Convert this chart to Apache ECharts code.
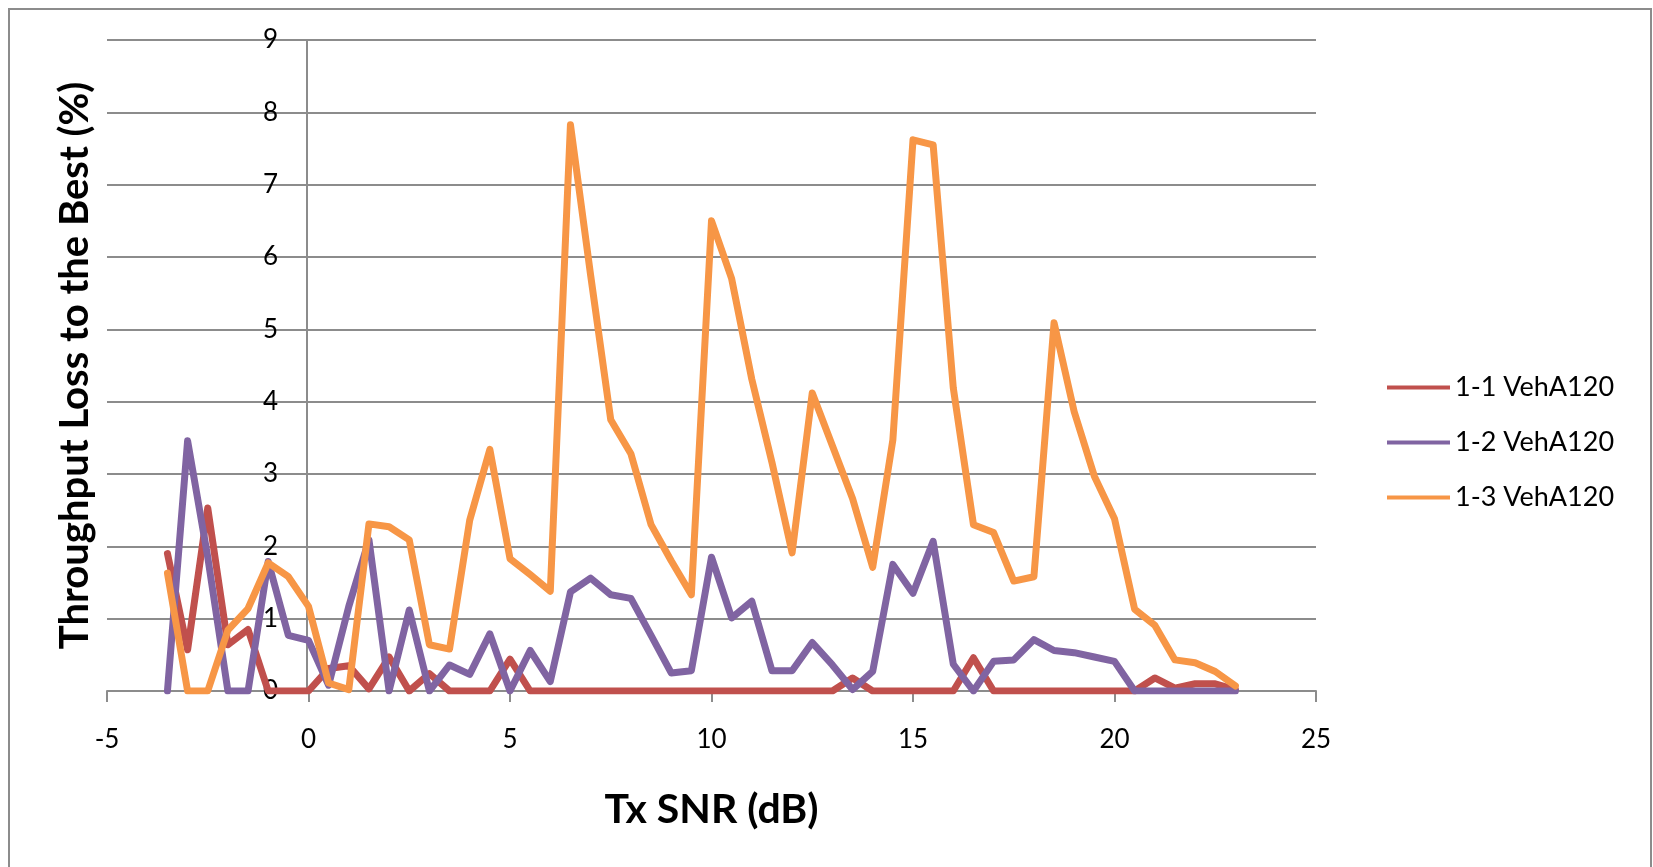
<!DOCTYPE html>
<html>
<head>
<meta charset="utf-8">
<title>Throughput Loss to the Best</title>
<script src="https://cdn.jsdelivr.net/npm/echarts@6/dist/echarts.min.js"></script>
<style>
  html, body { margin: 0; padding: 0; background: #fff; }
  #chart { width: 1653px; height: 867px; }
</style>
</head>
<body>
<div id="chart"></div>
<script>
// Tx SNR (dB) sample points
var snr = [-3.5, -3, -2.5, -2, -1.5, -1, -0.5, 0, 0.5, 1, 1.5, 2, 2.5, 3, 3.5, 4, 4.5, 5, 5.5, 6,
  6.5, 7, 7.5, 8, 8.5, 9, 9.5, 10, 10.5, 11, 11.5, 12, 12.5, 13, 13.5, 14, 14.5, 15, 15.5, 16,
  16.5, 17, 17.5, 18, 18.5, 19, 19.5, 20, 20.5, 21, 21.5, 22, 22.5, 23];

// throughput loss (%) per series
var loss11 = [1.90, 0.57, 2.53, 0.64, 0.85, 0, 0, 0, 0.31, 0.35, 0.03, 0.47, 0, 0.24, 0, 0, 0, 0.44, 0, 0,
  0, 0, 0, 0, 0, 0, 0, 0, 0, 0, 0, 0, 0, 0, 0.18, 0, 0, 0, 0, 0,
  0.46, 0, 0, 0, 0, 0, 0, 0, 0, 0.18, 0.04, 0.10, 0.10, 0.02];
var loss12 = [0, 3.46, 1.85, 0, 0, 1.79, 0.77, 0.70, 0.08, 1.17, 2.09, 0, 1.12, 0, 0.36, 0.23, 0.79, 0, 0.56, 0.13,
  1.37, 1.56, 1.33, 1.28, 0.77, 0.25, 0.28, 1.85, 1.01, 1.24, 0.28, 0.28, 0.67, 0.36, 0.02, 0.27, 1.75, 1.35, 2.07, 0.37,
  0, 0.41, 0.43, 0.71, 0.56, 0.53, 0.47, 0.41, 0, 0, 0, 0, 0, 0];
var loss13 = [1.63, 0, 0, 0.84, 1.14, 1.77, 1.58, 1.17, 0.11, 0.02, 2.31, 2.27, 2.09, 0.64, 0.58, 2.36, 3.34, 1.83, 1.61, 1.38,
  7.83, 5.75, 3.75, 3.28, 2.30, 1.80, 1.33, 6.50, 5.70, 4.31, 3.16, 1.91, 4.12, 3.39, 2.66, 1.71, 3.47, 7.62, 7.55, 4.19,
  2.30, 2.19, 1.52, 1.58, 5.09, 3.86, 2.97, 2.38, 1.13, 0.91, 0.43, 0.39, 0.27, 0.07];

var seriesNames = ['1-1 VehA120', '1-2 VehA120', '1-3 VehA120'];
var seriesColors = ['#C0504D', '#8064A2', '#F79646'];

var FONT = 'Lato, "Open Sans", sans-serif';
var GRAY = '#8c8c8c';

function pairs(ys) {
  return snr.map(function (x, i) { return [x, ys[i]]; });
}

var myChart = echarts.init(document.getElementById('chart'));

var series = [loss11, loss12, loss13].map(function (ys, i) {
  return {
    name: seriesNames[i],
    type: 'line',
    data: pairs(ys),
    symbol: 'none',
    color: seriesColors[i],
    lineStyle: { width: 7, color: seriesColors[i], join: 'round', cap: 'round' }
  };
});

myChart.setOption({
  animation: false,
  backgroundColor: '#fff',
  textStyle: { fontFamily: FONT, color: '#000' },
  graphic: [{
    type: 'rect',
    shape: { x: 9, y: 9, width: 1642, height: 900 },
    style: { fill: 'none', stroke: GRAY, lineWidth: 2 },
    silent: true
  }],
  grid: { left: 107, right: 337, top: 40, bottom: 176, containLabel: false, outerBoundsMode: 'none' },
  legend: {
    orient: 'vertical',
    left: 1382,
    top: 369,
    itemWidth: 63,
    itemHeight: 27,
    itemGap: 28,
    icon: 'path://M0,0 L63,0 L63,4 L0,4 Z',
    textStyle: { fontSize: 27, fontFamily: FONT, color: '#000', lineHeight: 27 },
    data: seriesNames
  },
  xAxis: {
    type: 'value',
    min: -5,
    max: 25,
    interval: 5,
    name: 'Tx SNR (dB)',
    nameLocation: 'middle',
    nameGap: 98,
    nameTextStyle: { fontSize: 41, fontWeight: 'bold', fontFamily: FONT, color: '#000' },
    axisLine: { show: true, onZero: false, lineStyle: { color: GRAY, width: 2 } },
    axisTick: { show: true, length: 11, lineStyle: { color: GRAY, width: 2 } },
    axisLabel: { fontSize: 26, color: '#000', margin: 36, fontFamily: FONT },
    splitLine: { show: false }
  },
  yAxis: {
    type: 'value',
    min: 0,
    max: 9,
    interval: 1,
    // axis drawn at x = 0 of the SNR scale
    offset: -200,
    name: 'Throughput Loss to the Best (%)',
    nameLocation: 'middle',
    nameGap: 212,
    nameRotate: 90,
    nameTextStyle: { fontSize: 40, fontWeight: 'bold', fontFamily: FONT, color: '#000' },
    axisLine: { show: true, onZero: false, lineStyle: { color: GRAY, width: 2 } },
    axisTick: { show: true, length: 9, lineStyle: { color: GRAY, width: 2 } },
    axisLabel: { fontSize: 26, color: '#000', margin: 29, fontFamily: FONT },
    splitLine: { show: true, lineStyle: { color: GRAY, width: 2 } }
  },
  series: series
});
</script>
</body>
</html>
